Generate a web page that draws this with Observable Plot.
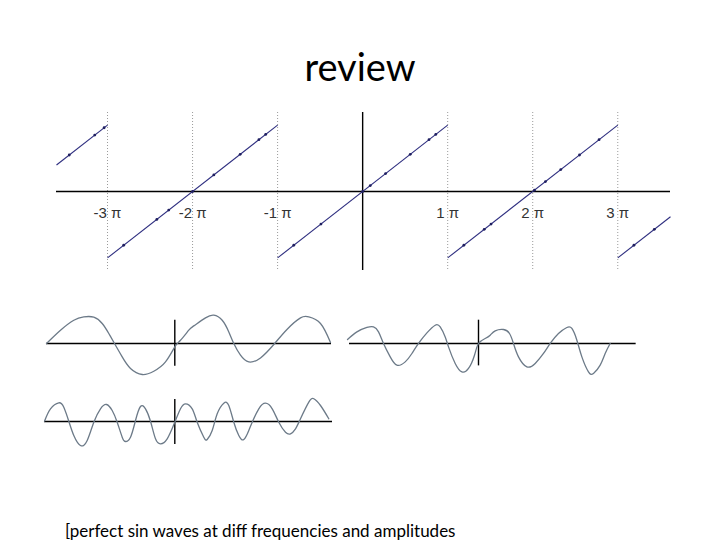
<!DOCTYPE html>
<html><head><meta charset="utf-8">
<script src="https://cdn.jsdelivr.net/npm/d3@7"></script>
<script src="https://cdn.jsdelivr.net/npm/@observablehq/plot@0.6"></script>
<style>
body{margin:0;background:#fff;}
#page{position:relative;width:720px;height:540px;overflow:hidden;background:#fff;}
.abs{position:absolute;}
#title{position:absolute;left:0;width:720px;top:43px;text-align:center;font-family:Lato,sans-serif;font-size:38px;color:#000;}
#caption{position:absolute;left:65px;top:520px;font-family:Lato,sans-serif;font-size:17px;color:#000;white-space:nowrap;}
svg{overflow:visible;}
</style></head><body>
<div id="page">
<div id="title">review</div>
<div id="main" class="abs" style="left:56px;top:112px"></div>
<div id="waveA" class="abs"></div>
<div id="waveB" class="abs"></div>
<div id="waveC" class="abs"></div>
<div id="caption">[perfect sin waves at diff frequencies and amplitudes</div>
</div>
<script>
// ---- main sawtooth chart (x and y in units of π) ----
const piTicks = [-3, -2, -1, 1, 2, 3];
const piLabels = ["-3 π", "-2 π", "-1 π", "1 π", "2 π", "3 π"];
const sawX0 = [-3.6, -3, -1, 1, 3];
const sawX1 = [-3, -1, 1, 3, 3.62];
const sawY0 = [0.4, -1, -1, -1, -1];
const sawY1 = [1, 1, 1, 1, -0.38];
const dotX = [-3.45, -3.15, -3.04, -2.81, -2.42, -2.28, -2.0, -1.75, -1.44, -1.22, -1.14,
  -0.81, -0.49, 0, 0.09, 0.27, 0.56, 0.78, 0.86, 1.19, 1.43, 1.51, 2.02, 2.15, 2.33, 2.55, 2.78, 3.19, 3.43];
const dotY = [0.55, 0.85, 0.96, -0.81, -0.42, -0.28, 0, 0.25, 0.56, 0.78, 0.86,
  -0.81, -0.49, 0, 0.09, 0.27, 0.56, 0.78, 0.86, -0.81, -0.57, -0.49, 0.02, 0.15, 0.33, 0.55, 0.78, -0.81, -0.57];

const segs = sawX0.map((d, i) => ({x1: d, x2: sawX1[i], y1: sawY0[i], y2: sawY1[i]}));
const dots = dotX.map((d, i) => ({x: d, y: dotY[i]}));
const ticks = piTicks.map((d, i) => ({x: d, label: piLabels[i]}));

const mainPlot = Plot.plot({
  width: 614, height: 158,
  marginTop: 0, marginBottom: 0, marginLeft: 0, marginRight: 0,
  x: {domain: [-3.6, 3.62], axis: null},
  y: {domain: [-1.19, 1.19], axis: null},
  style: {background: "transparent"},
  marks: [
    Plot.ruleX(piTicks, {stroke: "#9a9a9a", strokeWidth: 1, strokeDasharray: "1,2"}),
    Plot.ruleY([0], {stroke: "#000", strokeWidth: 1.4}),
    Plot.ruleX([0], {stroke: "#000", strokeWidth: 1.4}),
    Plot.link(segs, {x1: "x1", y1: "y1", x2: "x2", y2: "y2", stroke: "#2f2f80", strokeWidth: 1.1}),
    Plot.dot(dots, {x: "x", y: "y", r: 1.4, fill: "#1f1f60", stroke: "none"}),
    Plot.text(ticks, {x: "x", y: -0.33, text: "label", fontSize: 15, fill: "#333", fontFamily: "Arial, 'Liberation Sans', sans-serif"})
  ]
});
document.getElementById("main").appendChild(mainPlot);

// ---- small sine-wave panels (x: time offset from centre axis, y: amplitude) ----
const waveA_t = [-128.3, -114.3, -101, -91, -81, -72.6, -66, -60.3, -52.6, -44.3, -32.6, -21, -9.3, 0, 5.7, 14, 19, 30.7, 39, 47.4, 54, 59, 65.7, 74, 85.7, 99, 112.4, 125.7, 134, 145.7, 155.7];
const waveA_v = [0, 13.3, 23.3, 26.6, 26.3, 20, 10, 0, -13.4, -25, -31, -27.7, -18.4, -3.4, 3.3, 13.3, 17.6, 25.6, 28.3, 23.3, 11.6, 0, -11.7, -18.4, -14.4, -1, 14.3, 25.6, 26.6, 20, 1];

const waveB_t = [-130.3, -124.3, -116, -111, -106, -101, -94.3, -87.6, -81, -74.3, -68.3, -62.6, -57.6, -52.6, -49.3, -44.3, -39.3, -34.3, -29.3, -24.3, -19.3, -14.3, -7.6, 0, 5.7, 10.7, 17.4, 22.4, 29, 32.4, 37.4, 42.4, 49, 54, 59, 64, 69, 74, 77.4, 84, 90.7, 97.4, 104, 110.7, 115.7, 120.7, 125.7, 134, 139, 145.7, 154];
const waveB_v = [0.3, 12.7, 18.7, 14.3, 0.3, -14, -24, -19, -0.7, 12.7, 17, 11, -0.7, -15.7, -20, -15.7, 1, 15, 12.7, 0.3, -17.3, -22.3, -17.3, -0.7, 12.7, 17.7, 12.7, -0.7, -15.7, -18, -9, 7.7, 18.3, 16, -0.7, -14, -18, -9, -0.7, 12.7, 18.3, 12.7, -0.7, -10.7, -12.3, -7.3, 2.7, 19.3, 22.7, 16, 2.7];

const waveC_t = [-131, -121.6, -111.6, -105, -100, -95, -88.3, -81.6, -73.3, -66.6, -60, -51.6, -43.3, -38.3, -33.3, -30, -23.3, -16.6, -10, -4, 0, 6.7, 11.7, 16.7, 25, 31, 35, 40, 48.4, 56.7, 65, 71.7, 80, 88.4, 93.4, 98.4, 103.4, 110, 115, 121.7, 126.7, 131.7];
const waveC_v = [4, 11.6, 16, 16.6, 11.6, 0, -13.4, -21.7, -18.4, -10, 0, 10.6, 18.3, 16.6, 6.6, -3.4, -20, -28.4, -25, -11.7, 0, 5, 8.3, 12.6, 14, 10, 0, -13.4, -23.4, -20, -10, 0, 10, 16, 15, 3.3, -13.4, -28.4, -30, -21.7, -10, 0];

function wavePanel(el, ts, vs, xDom, vTop, vBot, axisY, left) {
  const data = ts.map((t, i) => ({t, v: vs[i]}));
  const w = xDom[1] - xDom[0];
  const p = Plot.plot({
    width: w, height: 70,
    marginTop: 0, marginBottom: 0, marginLeft: 0, marginRight: 0,
    x: {domain: xDom, axis: null},
    y: {domain: [-35, 35], axis: null},
    style: {background: "transparent"},
    marks: [
      Plot.ruleY([0], {stroke: "#000", strokeWidth: 1.4}),
      Plot.ruleX([0], {y1: vBot, y2: vTop, stroke: "#000", strokeWidth: 1.4}),
      Plot.line(data, {x: "t", y: "v", curve: "natural", stroke: "#6c7a88", strokeWidth: 1.3})
    ]
  });
  const d = document.getElementById(el);
  d.style.left = left + "px";
  d.style.top = (axisY - 35) + "px";
  d.appendChild(p);
}
wavePanel("waveA", waveA_t, waveA_v, [-128.3, 156.7], 23.3, -22.7, 343.3, 46);
wavePanel("waveB", waveB_t, waveB_v, [-130.3, 157.7], 22, -23, 421, 44);
wavePanel("waveC", waveC_t, waveC_v, [-129, 157.7], 23.3, -22.4, 343.3, 349.3);
</script>
</body></html>
